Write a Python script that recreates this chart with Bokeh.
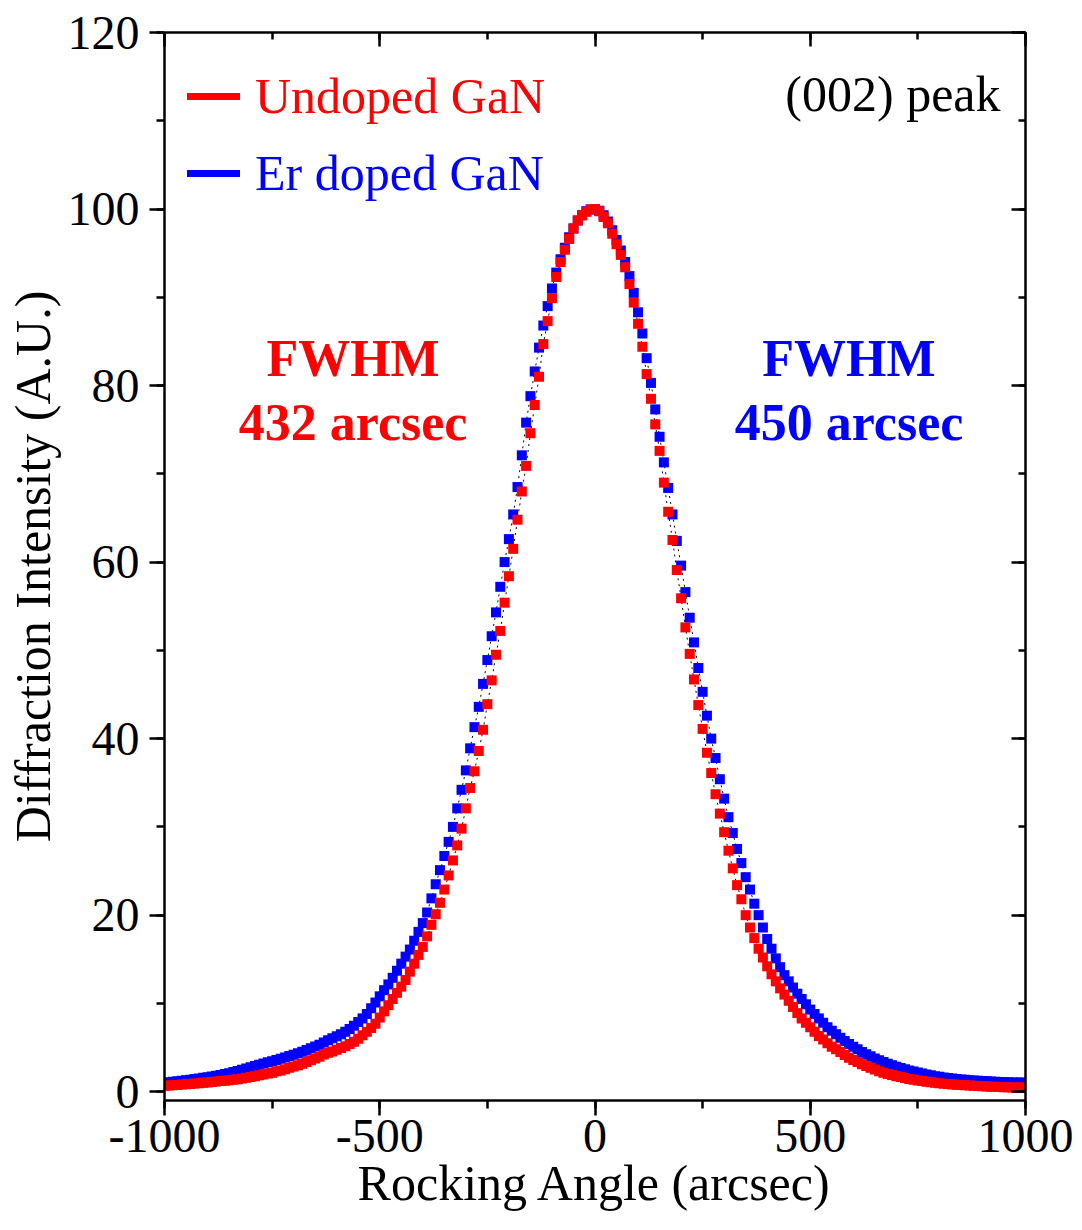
from bokeh.plotting import figure
from bokeh.models import (LinearAxis, SingleIntervalTicker, Legend, LegendItem,
                          Label, Range1d)
from bokeh.embed import file_html
from bokeh.resources import INLINE

# ---------------- data ----------------
angle = list(range(-1000, 1001, 10))  # rocking angle scan grid (arcsec)

undoped = [
    0.68, 0.71, 0.74, 0.77, 0.80, 0.84, 0.88, 0.92, 0.96, 1.00,
    1.05, 1.10, 1.15, 1.20, 1.25, 1.30, 1.36, 1.42, 1.50, 1.58,
    1.65, 1.75, 1.85, 1.95, 2.05, 2.15, 2.30, 2.40, 2.55, 2.70,
    2.85, 3.00, 3.15, 3.35, 3.55, 3.75, 3.95, 4.20, 4.40, 4.55,
    4.75, 4.95, 5.15, 5.40, 5.65, 6.00, 6.40, 6.80, 7.20, 7.70,
    8.40, 9.10, 9.80, 10.5, 11.2, 11.9, 12.65, 13.6, 14.5, 15.5,
    16.4, 17.6, 18.9, 20.1, 21.4, 22.9, 24.5, 26.2, 27.9, 29.8,
    32.1, 34.4, 36.3, 38.6, 41.0, 43.9, 46.6, 49.5, 52.2, 55.4,
    58.4, 61.5, 64.8, 68.0, 70.9, 74.6, 77.8, 81.0, 84.7, 87.3,
    89.9, 92.3, 94.0, 95.4, 96.6, 97.8, 98.7, 99.3, 99.7, 99.95,
    100.0,
    99.75, 99.1, 98.4, 97.2, 96.0, 94.8, 93.4, 91.5, 89.4, 87.0,
    84.4, 81.3, 78.5, 75.6, 72.6, 69.0, 65.7, 62.5, 59.1, 55.9,
    52.6, 49.6, 46.7, 43.8, 41.1, 38.4, 36.1, 33.7, 31.5, 29.4,
    27.3, 25.3, 23.4, 21.8, 20.0, 18.6, 17.4, 16.2, 15.2, 14.2,
    13.3, 12.5, 11.7, 11.0, 10.3, 9.6, 8.9, 8.3, 7.8, 7.3,
    6.8, 6.3, 5.9, 5.5, 5.1, 4.8, 4.5, 4.15, 3.85, 3.6,
    3.35, 3.1, 2.9, 2.7, 2.5, 2.3, 2.15, 2.0, 1.88, 1.76,
    1.65, 1.55, 1.45, 1.36, 1.28, 1.2, 1.13, 1.06, 1.0, 0.95,
    0.9, 0.86, 0.82, 0.78, 0.75, 0.72, 0.69, 0.66, 0.63, 0.61,
    0.59, 0.57, 0.55, 0.53, 0.51, 0.5, 0.48, 0.47, 0.46, 0.45,
]

er_doped = [
    1.02, 1.07, 1.12, 1.18, 1.24, 1.30, 1.36, 1.43, 1.50, 1.57,
    1.64, 1.72, 1.80, 1.90, 2.00, 2.10, 2.22, 2.35, 2.48, 2.62,
    2.76, 2.90, 3.04, 3.18, 3.32, 3.46, 3.60, 3.74, 3.88, 4.03,
    4.18, 4.34, 4.52, 4.72, 4.92, 5.12, 5.33, 5.57, 5.82, 6.05,
    6.28, 6.52, 6.80, 7.10, 7.48, 7.88, 8.30, 8.80, 9.45, 10.1,
    10.8, 11.5, 12.15, 12.9, 13.7, 14.5, 15.3, 16.1, 17.1, 18.1,
    19.1, 20.3, 21.9, 23.5, 25.1, 26.7, 28.3, 30.0, 32.1, 34.2,
    36.4, 38.9, 41.3, 43.6, 46.2, 48.9, 51.6, 54.3, 57.2, 60.0,
    62.6, 65.4, 68.5, 72.1, 75.8, 78.8, 81.6, 84.3, 86.8, 89.0,
    91.0, 92.8, 94.3, 95.6, 96.8, 97.8, 98.7, 99.3, 99.75, 99.95,
    100.0,
    99.8, 99.3, 98.6, 97.6, 96.5, 95.3, 94.0, 92.4, 90.5, 88.3,
    85.9, 83.1, 80.3, 77.3, 74.2, 71.3, 68.4, 65.4, 62.4, 59.6,
    56.6, 53.7, 50.9, 48.0, 45.3, 42.6, 40.0, 37.8, 35.4, 33.2,
    31.1, 29.3, 27.5, 25.9, 24.3, 22.9, 21.3, 20.0, 18.6, 17.3,
    16.2, 15.1, 14.1, 13.2, 12.5, 11.8, 11.1, 10.5, 9.9, 9.3,
    8.8, 8.3, 7.8, 7.3, 6.9, 6.5, 6.1, 5.75, 5.4, 5.1,
    4.8, 4.5, 4.25, 4.0, 3.75, 3.55, 3.35, 3.15, 2.98, 2.82,
    2.67, 2.53, 2.4, 2.28, 2.16, 2.05, 1.95, 1.85, 1.76, 1.68,
    1.61, 1.54, 1.48, 1.43, 1.38, 1.34, 1.3, 1.26, 1.23, 1.2,
    1.17, 1.15, 1.12, 1.1, 1.08, 1.06, 1.05, 1.04, 1.03, 1.02,
]

series_names = ["Undoped GaN", "Er doped GaN"]
fwhm_labels = ["432 arcsec", "450 arcsec"]
x_ticks = [-1000, -500, 0, 500, 1000]
x_tick_labels = ["-1000", "-500", "0", "500", "1000"]
y_ticks = [0, 20, 40, 60, 80, 100, 120]
y_tick_labels = ["0", "20", "40", "60", "80", "100", "120"]

RED = "#FF0000"
BLUE = "#0000FF"
FONT = "Liberation Serif"
NAN = float("nan")

# ---------------- figure ----------------
p = figure(width=1082, height=1230,
           x_range=Range1d(-1000, 1000), y_range=Range1d(-1, 120),
           output_backend="svg", toolbar_location=None,
           min_border_left=164, min_border_right=57,
           min_border_top=32, min_border_bottom=130)
p.background_fill_color = "white"
p.border_fill_color = "white"
p.outline_line_color = None
p.xgrid.grid_line_color = None
p.ygrid.grid_line_color = None

xt = SingleIntervalTicker(interval=500, num_minor_ticks=2)
yt = SingleIntervalTicker(interval=20, num_minor_ticks=2)

xa = p.xaxis[0]
ya = p.yaxis[0]
for ax, tk in ((xa, xt), (ya, yt)):
    ax.ticker = tk
    ax.axis_line_width = 2.5
    ax.major_tick_line_width = 2.5
    ax.minor_tick_line_width = 2.5
    ax.major_tick_in = 0
    ax.major_tick_out = 15
    ax.minor_tick_in = 0
    ax.minor_tick_out = 8
    ax.major_label_text_font = FONT
    ax.major_label_text_font_size = "48px"
    ax.major_label_text_color = "black"
    ax.axis_label_text_font = FONT
    ax.axis_label_text_font_size = "50px"
    ax.axis_label_text_font_style = "normal"
    ax.axis_label_text_color = "black"

xa.major_label_overrides = dict(zip(x_ticks, x_tick_labels))
ya.major_label_overrides = dict(zip(y_ticks, y_tick_labels))
xa.axis_label = "Rocking Angle (arcsec)"
ya.axis_label = "Diffraction Intensity (A.U.)"
xa.major_label_standoff = 4
xa.axis_label_standoff = 0
ya.major_label_standoff = 10
ya.axis_label_standoff = 4

for loc, tk in (("above", xt), ("right", yt)):
    ax = LinearAxis(ticker=tk)
    ax.axis_line_width = 2.5
    ax.major_tick_line_width = 2.5
    ax.minor_tick_line_width = 2.5
    ax.major_tick_in = 14
    ax.major_tick_out = 0
    ax.minor_tick_in = 7
    ax.minor_tick_out = 0
    ax.major_label_text_font_size = "0px"
    ax.major_label_text_alpha = 0
    ax.major_label_standoff = 0
    p.add_layout(ax, loc)

# faint black fit lines under the markers
p.line(angle, er_doped, line_color="black", line_width=1, line_dash="2 4")
p.line(angle, undoped, line_color="black", line_width=1, line_dash="2 4")

# data markers
p.scatter(angle, er_doped, marker="square", size=10,
          fill_color=BLUE, line_color=None)
p.scatter(angle, undoped, marker="square", size=10,
          fill_color=RED, line_color=None)

# legend swatch renderers (nothing drawn in the plot area)
leg_red = p.line([NAN], [NAN], line_color=RED, line_width=7, line_cap="round")
leg_blue = p.line([NAN], [NAN], line_color=BLUE, line_width=7, line_cap="round")

for rend, name, col, gh in ((leg_red, series_names[0], RED, 82),
                            (leg_blue, series_names[1], BLUE, 236)):
    lg = Legend(items=[LegendItem(label=name, renderers=[rend])],
                location="top_left", margin=23, padding=0,
                glyph_width=53, glyph_height=gh, label_standoff=15,
                label_text_font=FONT, label_text_font_size="50px",
                label_text_color=col, border_line_color=None,
                background_fill_alpha=0)
    p.add_layout(lg)

# annotations
for xc, col, lab in ((-562, RED, fwhm_labels[0]), (590, BLUE, fwhm_labels[1])):
    p.add_layout(Label(x=xc, y=83.1, text="FWHM", text_font=FONT,
                       text_font_style="bold", text_font_size="52px",
                       text_color=col, text_align="center",
                       text_baseline="alphabetic"))
    p.add_layout(Label(x=xc, y=75.8, text=lab, text_font=FONT,
                       text_font_style="bold", text_font_size="52px",
                       text_color=col, text_align="center",
                       text_baseline="alphabetic"))

p.add_layout(Label(x=942, y=113.0, text="(002) peak", text_font=FONT,
                   text_font_size="50px", text_color="black",
                   text_align="right", text_baseline="alphabetic"))

open("out.html", "w").write(file_html(p, INLINE))
